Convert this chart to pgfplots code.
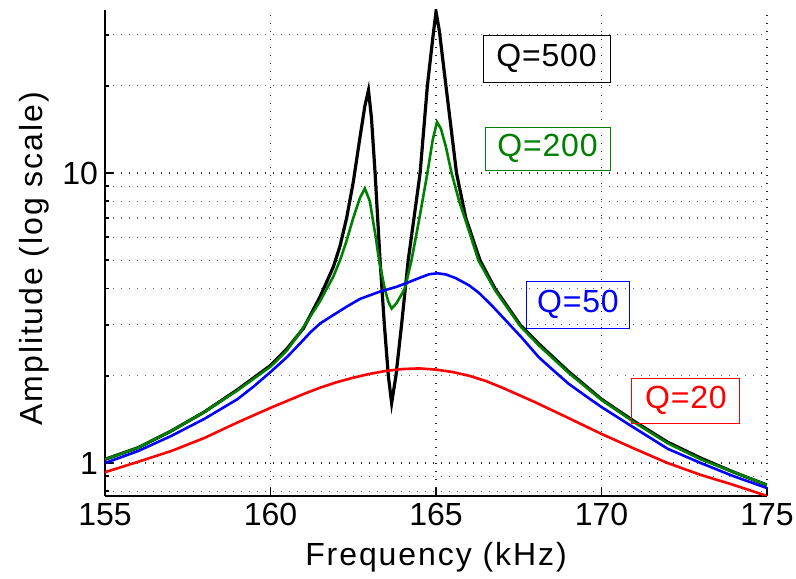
\documentclass[border=0pt]{standalone}
\usepackage{fontspec}
\setmainfont{Liberation Sans}
\newfontfamily\lblfont[LetterSpace=6]{Liberation Sans}
\newfontfamily\qfont[LetterSpace=2.5]{Liberation Sans}
\usepackage{pgfplots}
\pgfplotsset{compat=1.18}
\definecolor{mgreen}{rgb}{0,0.5,0}
\tikzset{qbox/.style={line width=0.5bp, inner sep=0pt, font=\qfont\fontsize{16bp}{19bp}\selectfont}}
\begin{document}
\begin{tikzpicture}
% page = reference proportions (2 px per bp)
\path[use as bounding box] (-52.5bp,-41.5bp) rectangle (345.5bp,248bp);
\begin{axis}[
  at={(0,0)}, anchor=south west,
  scale only axis, width=331bp, height=243bp,
  xmin=155, xmax=175,
  ymode=log, ymin=0.77, ymax=36.5,
  axis x line*=bottom, axis y line*=left,
  axis line style={black, line width=0.9bp},
  xtick={155,160,165,170,175},
  ytick={1,10}, yticklabels={1,10},
  minor ytick={0.8,0.9,2,3,4,5,6,7,8,9,20,30},
  tick align=inside,
  major tick length=4bp, minor tick length=2bp,
  tick style={black, line width=0.9bp},
  grid=both,
  major grid style={black!85, line width=0.6bp, dash pattern=on 0.6bp off 3.4bp},
  minor grid style={black!60, line width=0.6bp, dash pattern=on 0.6bp off 3.4bp},
  /pgf/number format/assume math mode=true,
  /pgf/number format/1000 sep={},
  tick label style={font=\fontsize{16bp}{19bp}\selectfont},
  label style={font=\lblfont\fontsize{16bp}{19bp}\selectfont},
  xlabel={Frequency (kHz)},
  ylabel={Amplitude (log scale)},
  xlabel style={at={(axis description cs:0.5,0)}, anchor=base, yshift=-34.5bp},
  ylabel style={at={(axis description cs:-0.095,0.488)}, anchor=base},
]
% Q=500
\addplot[black, line width=1.6bp] coordinates {
(155,1.03) (156,1.13) (157,1.29) (158,1.50) (159,1.79) (160,2.17) (160.5,2.48)
(161,2.92) (161.5,3.75) (161.9,4.75) (162.1,5.6) (162.3,7.0) (162.5,9.3)
(162.7,13.2) (162.85,17.0) (162.96,19.3) (163.05,15.5) (163.16,10.0)
(163.31,5.0) (163.44,3.0) (163.56,2.0) (163.66,1.61) (163.79,2.0) (163.96,3.0)
(164.16,5.0) (164.35,7.2) (164.52,10.0) (164.74,20.0) (164.9,29.0) (165.0,36.0)
(165.1,31.0) (165.3,20.0) (165.62,10.0) (165.9,7.0) (166.33,5.0) (166.78,4.0)
(167.54,3.0) (168.1,2.58) (169,2.07) (170,1.66) (171,1.39) (172,1.18)
(173,1.04) (174,0.93) (175,0.84)
};
% Q=200
\addplot[mgreen, line width=1.3bp] coordinates {
(155,1.03) (156,1.13) (157,1.29) (158,1.50) (159,1.78) (160,2.15) (160.5,2.45)
(160.9,2.83) (161.2,3.2) (161.5,3.62) (161.9,4.4) (162.1,5.0) (162.3,5.85)
(162.5,7.0) (162.7,8.2) (162.85,8.85) (163.0,8.0) (163.18,6.0) (163.28,5.0)
(163.45,4.0) (163.56,3.6) (163.66,3.41) (163.8,3.55) (163.95,3.8) (164.06,4.0)
(164.26,5.0) (164.5,7.0) (164.74,10.0) (164.9,13.0) (165.03,15.0) (165.15,14.2)
(165.3,12.3) (165.47,10.0) (165.7,8.0) (166.0,6.3) (166.28,5.0) (166.78,3.95)
(167.54,2.97) (168.1,2.55) (169,2.05) (170,1.65) (171,1.38) (172,1.17)
(173,1.03) (174,0.93) (175,0.84)
};
% Q=50
\addplot[blue, line width=1.3bp] coordinates {
(155,1.00) (156,1.10) (157,1.24) (158,1.42) (159,1.66) (159.5,1.84) (160,2.06)
(160.5,2.32) (160.9,2.59) (161.2,2.82) (161.5,3.03) (161.9,3.24) (162.3,3.46)
(162.7,3.68) (163.3,3.90) (163.8,4.05) (164.1,4.17) (164.5,4.35) (164.8,4.48)
(165.05,4.51) (165.3,4.47) (165.6,4.34) (166.0,4.10) (166.3,3.86) (166.7,3.48)
(167.1,3.11) (167.6,2.70) (168.1,2.32) (168.5,2.11) (169,1.88) (169.5,1.71)
(170,1.56) (171,1.32) (172,1.12) (173,1.00) (174,0.90) (175,0.82)
};
% Q=20
\addplot[red, line width=1.3bp] coordinates {
(155,0.93) (156,1.01) (157,1.10) (158,1.22) (159,1.38) (160,1.55) (161,1.73)
(161.5,1.82) (162,1.90) (162.5,1.97) (163,2.03) (163.5,2.08) (164,2.11)
(164.5,2.12) (165,2.10) (165.5,2.06) (166,2.00) (166.5,1.92) (167,1.82)
(168,1.62) (169,1.43) (170,1.26) (171,1.12) (172,1.00) (173,0.91) (174,0.84)
(175,0.77)
};
\node[qbox, draw=black, text=black, minimum width=63.5bp, minimum height=23.5bp]
  at (axis cs:168.34,24.8) {Q=500};
\node[qbox, draw=mgreen, text=mgreen, minimum width=62.5bp, minimum height=21.5bp]
  at (axis cs:168.37,12.15) {Q=200};
\node[qbox, draw=blue, text=blue, minimum width=51bp, minimum height=23.5bp]
  at (axis cs:169.29,3.52) {Q=50};
\node[qbox, draw=red, text=red, minimum width=54bp, minimum height=22.5bp]
  at (axis cs:172.55,1.64) {Q=20};
\end{axis}
\end{tikzpicture}
\end{document}
